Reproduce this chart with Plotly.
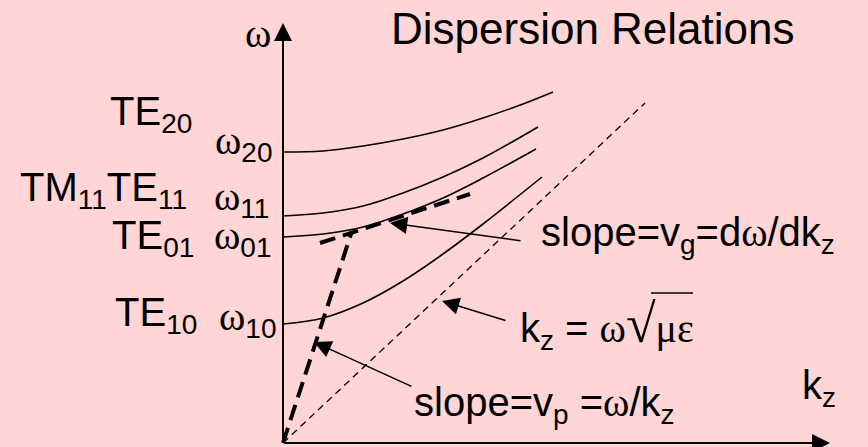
import plotly.graph_objects as go

# wavenumber k_z and frequency omega (origin at the axes corner)
k_te20 = [0, 40, 80, 120, 160, 200, 240, 270]
w_te20 = [291, 292, 297, 304, 313, 325, 339, 351]
k_te11 = [0, 40, 80, 120, 160, 200, 255]
w_te11 = [227, 230, 237, 250, 266, 285, 316]
k_te01 = [0, 40, 80, 120, 160, 200, 253]
w_te01 = [206, 209, 216, 229, 245, 265, 294]
k_te10 = [0, 40, 80, 120, 160, 200, 259]
w_te10 = [119, 125, 140, 162, 189, 219, 266]

k_light = [0, 362]
w_light = [0, 340]
k_group = [37, 187]
w_group = [200, 249]
k_phase = [0, 69]
w_phase = [0, 212]

SERIF = "Liberation Serif"
SANS = "Liberation Sans"
BG = "#FFD5D5"


def om(sub=""):
    s = f"<span style='font-family:{SERIF}'>ω</span>"
    if sub:
        s += f"<sub>{sub}</sub>"
    return s


fig = go.Figure()

for kk, ww in [(k_te20, w_te20), (k_te11, w_te11), (k_te01, w_te01), (k_te10, w_te10)]:
    fig.add_trace(go.Scatter(x=kk, y=ww, mode="lines", line=dict(color="black", width=1.6, shape="spline"),
                             hoverinfo="skip"))

fig.add_trace(go.Scatter(x=k_light, y=w_light, mode="lines",
                         line=dict(color="black", width=1.3, dash="7px,5px"), hoverinfo="skip"))
fig.add_trace(go.Scatter(x=k_group, y=w_group, mode="lines",
                         line=dict(color="black", width=4, dash="16px,8px"), hoverinfo="skip"))
fig.add_trace(go.Scatter(x=k_phase, y=w_phase, mode="lines",
                         line=dict(color="black", width=4, dash="16px,8px"), hoverinfo="skip"))

ann = []


def arrow(x0, y0, x1, y1, w=1.5, size=2.0):
    ann.append(dict(x=x1, y=y1, ax=x0, ay=y0, xref="x", yref="y", axref="x", ayref="y",
                    text="", showarrow=True, arrowhead=2, arrowsize=size, arrowwidth=w,
                    arrowcolor="black", standoff=0, startstandoff=0))


# axes
arrow(0, 0, 547, 0, w=2, size=1.8)
arrow(0, 0, 0, 420, w=2, size=1.8)
# pointers
arrow(239, 202, 107, 220, size=2.3)
arrow(224, 122, 159, 142, size=2.3)
arrow(130, 56, 31, 101, size=2.3)


def label(x, y, text, size=40, family=SANS, anchor="left"):
    ann.append(dict(x=x, y=y, xref="x", yref="y", text=text, showarrow=False,
                    xanchor=anchor, yanchor="middle", font=dict(family=family, size=size, color="black")))


label(106, 415, "Dispersion Relations", size=44)
label(-40, 410, om(), size=40)
label(517, 55, "k<sub>z</sub>")

label(-175, 329, "TE<sub>20</sub>")
label(-70, 300, om("20"))
label(-265, 253, "TM<sub>11</sub>TE<sub>11</sub>")
label(-71, 244, om("11"))
label(-173, 205, "TE<sub>01</sub>")
label(-71, 205, om("01"))
label(-170, 128, "TE<sub>10</sub>")
label(-66, 124, om("10"))

label(256, 208, "slope=v<sub>g</sub>=d" + om() + "/dk<sub>z</sub>")
label(235, 118, "k<sub>z</sub> = " + om()
      + f"<span style='font-family:{SERIF};font-size:54px'>√</span>"
      + f"<span style='font-family:{SERIF}'>με</span>")
label(129, 38, "slope=v<sub>p</sub> =" + om() + "/k<sub>z</sub>")

fig.update_layout(
    width=868, height=447, margin=dict(l=0, r=0, t=0, b=0),
    paper_bgcolor=BG, plot_bgcolor=BG, showlegend=False,
    xaxis=dict(range=[-283, 585], visible=False, fixedrange=True),
    yaxis=dict(range=[-4, 443], visible=False, fixedrange=True),
    annotations=ann,
    shapes=[dict(type="line", xref="x", yref="y", x0=368, x1=410, y0=150, y1=150,
                 line=dict(color="black", width=1.5))],
)

fig.write_html("out.html", config={"displayModeBar": False},
               post_script="document.body.style.margin='0';document.body.style.overflow='hidden';")
